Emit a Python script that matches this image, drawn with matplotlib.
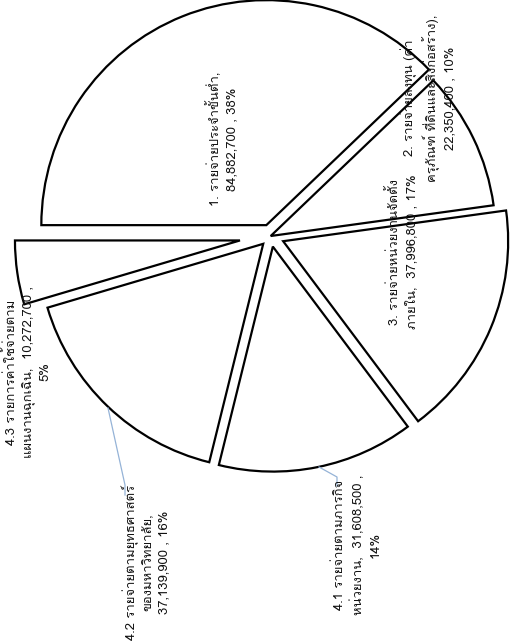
import matplotlib
matplotlib.use("Agg")
import matplotlib.pyplot as plt

plt.rcParams['font.family'] = ['Loma', 'DejaVu Sans']

labels = [
    "1. รายจ่ายประจำขั้นต่ำ,\n84,882,700 , 38%",
    "2. รายจ่ายลงทุน (ค่า\nครุภัณฑ์ ที่ดินและสิ่งก่อสร้าง),\n22,350,400 , 10%",
    "3. รายจ่ายหน่วยงานจัดตั้ง\nภายใน,  37,996,800 , 17%",
    "4.1 รายจ่ายตามภารกิจ\nหน่วยงาน,  31,608,500 ,\n14%",
    "4.2 รายจ่ายตามยุทธศาสตร์\nของมหาวิทยาลัย,\n37,139,900 , 16%",
    "4.3 รายการค่าใช้จ่ายตาม\nแผนงานฉุกเฉิน,  10,272,700 ,\n5%",
]
values = [84882700, 22350400, 37996800, 31608500, 37139900, 10272700]
explode = [0.052, 0.0, 0.06, 0.048, 0.048, 0.138]

# the whole chart sits turned on its side, so work in pixel units
W, H = 511, 643
cx, cy, R = 270.7, H - 236, 225
label_pos = [(222, 139), (428, 98), (403, 252), (357, 545), (146, 562), (28, 372)]
leaders = {
    3: [(319, 467), (337, 477), (337, 486)],
    4: [(108, 408), (125, 485), (125, 495)],
}

fig = plt.figure(figsize=(W / 100, H / 100), dpi=100)
ax = fig.add_axes([0, 0, 1, 1])

# pie() shifts wedges by explode in data units, so scale by the radius
ax.pie(values, explode=[e * R for e in explode], startangle=180, counterclock=False,
       center=(cx, cy), radius=R,
       colors=['white'] * len(values),
       wedgeprops=dict(edgecolor='black', linewidth=1.6))

for i, txt in enumerate(labels):
    x, y = label_pos[i]
    ax.text(x, H - y, txt, rotation=90, ha='center', va='center',
            multialignment='center', fontsize=9.4, linespacing=1.42, color='#111111')

for i, pts in leaders.items():
    xs = [p[0] for p in pts]
    ys = [H - p[1] for p in pts]
    ax.plot(xs, ys, color='#95B3D7', linewidth=0.9)

ax.set_xlim(0, W)
ax.set_ylim(0, H)
ax.set_aspect('auto')
ax.axis('off')

fig.savefig("out.png", dpi=100)
